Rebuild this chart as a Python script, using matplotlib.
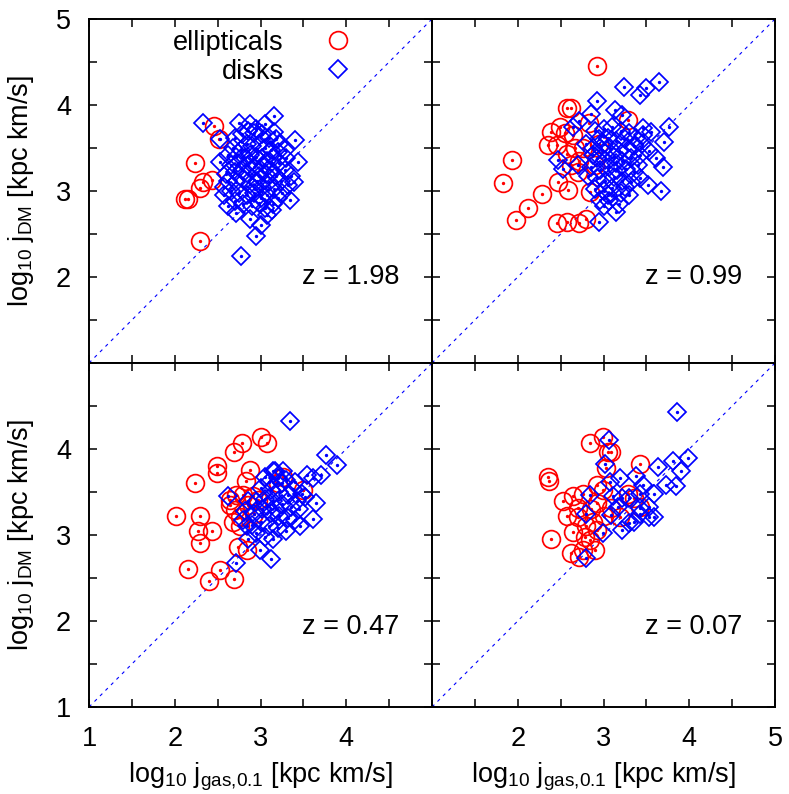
import matplotlib
matplotlib.use("Agg")
import matplotlib.pyplot as plt
from matplotlib.ticker import MultipleLocator, FixedLocator

plt.rcParams["font.family"] = ["Liberation Sans", "DejaVu Sans"]
plt.rcParams["mathtext.fontset"] = "custom"
plt.rcParams["mathtext.rm"] = "Liberation Sans"
plt.rcParams["mathtext.default"] = "regular"

# ---------------------------------------------------------------------------
# Data: (log10 j_gas,0.1 , log10 j_DM)
# ---------------------------------------------------------------------------

z_labels = ["z = 1.98", "z = 0.99", "z = 0.47", "z = 0.07"]

ell_x_198 = [2.46, 2.52, 2.24, 2.44, 2.33, 2.29, 2.16, 2.12, 2.30]
ell_y_198 = [3.76, 3.60, 3.32, 3.13, 3.11, 3.04, 2.91, 2.91, 2.42]
disk_x_198 = [2.33, 2.75, 2.88, 3.05, 3.16, 3.16, 2.93, 2.53, 3.40, 3.21, 2.84, 3.28,
              2.62, 2.72, 2.53, 3.44, 3.36, 3.39, 3.32, 3.34, 2.57, 2.62, 2.72, 2.88,
              3.01, 2.95, 2.77, 3.13, 3.07,
              2.70, 2.78, 2.85, 2.95, 3.02, 3.10, 3.18, 2.68, 2.77, 2.90, 2.98, 3.05,
              3.12, 3.20, 2.66, 2.74, 2.82, 2.88, 2.95, 3.02, 3.08, 3.15, 3.22, 3.28,
              2.70, 2.78, 2.85, 2.92, 3.00, 3.06, 3.12, 3.18, 3.24, 2.62, 2.72, 2.80,
              2.88, 2.96, 3.02, 3.10, 3.16, 2.66, 2.75, 2.84, 2.92, 3.00, 3.08, 3.20,
              2.70, 2.80, 2.90, 2.98, 3.05, 3.15, 3.25, 2.60, 2.58, 3.30, 2.98, 3.04,
              2.94, 2.86]
disk_y_198 = [3.79, 3.79, 3.78, 3.78, 3.87, 3.69, 3.67, 3.60, 3.59, 3.55, 3.55, 3.48,
              3.42, 3.40, 3.34, 3.34, 3.17, 3.11, 3.07, 2.90, 2.95, 2.82, 2.74, 2.68,
              2.60, 2.48, 2.24, 2.78, 2.72,
              3.62, 3.66, 3.70, 3.72, 3.66, 3.62, 3.60, 3.50, 3.48, 3.52, 3.55, 3.50,
              3.48, 3.45, 3.30, 3.33, 3.38, 3.42, 3.40, 3.38, 3.35, 3.38, 3.32, 3.25,
              3.22, 3.25, 3.20, 3.28, 3.25, 3.20, 3.24, 3.18, 3.12, 3.12, 3.10, 3.14,
              3.08, 3.12, 3.05, 3.10, 3.02, 3.00, 2.98, 2.95, 2.98, 2.92, 2.95, 2.92,
              2.88, 2.85, 2.82, 2.86, 2.80, 2.85, 2.98, 3.20, 3.05, 3.38, 3.18, 3.30,
              3.02, 3.30]

ell_x_099 = [2.93, 2.57, 2.62, 2.49, 2.39, 2.55, 2.83, 3.28, 2.35, 2.46, 2.64, 2.76,
             2.67, 2.57, 1.93, 1.83, 2.47, 2.59, 2.28, 2.12, 1.98, 2.46, 2.58, 2.71,
             2.80, 2.84, 2.70, 2.95, 2.90, 2.62, 2.72]
ell_y_099 = [4.45, 3.97, 3.96, 3.75, 3.69, 3.67, 3.79, 3.83, 3.53, 3.54, 3.65, 3.50,
             3.50, 3.43, 3.36, 3.09, 3.10, 3.01, 2.97, 2.80, 2.66, 2.63, 2.64, 2.63,
             2.68, 2.99, 3.22, 3.55, 3.30, 3.30, 3.35]
disk_x_099 = [3.24, 3.43, 3.49, 3.65, 2.93, 3.13, 3.22, 2.86, 2.72, 2.64, 3.76, 3.46,
              3.55, 3.71, 3.46, 3.53, 3.61, 3.69, 3.52, 3.67, 2.47, 2.53, 2.70, 2.88,
              2.95, 3.15, 3.01,
              2.90, 3.00, 3.10, 3.20, 3.30, 3.38, 2.95, 3.05, 3.15, 3.25, 3.35, 2.88,
              2.98, 3.08, 3.18, 3.28, 3.42, 2.92, 3.02, 3.12, 3.22, 3.32, 2.86, 2.96,
              3.06, 3.16, 3.26, 3.36, 2.92, 3.02, 3.12, 3.22, 3.32, 3.42, 2.90, 3.00,
              3.10, 3.20, 3.30, 2.96, 3.06, 3.18, 3.05, 3.25, 3.15, 3.00, 2.80, 2.82,
              3.40, 3.45]
disk_y_099 = [4.21, 4.12, 4.20, 4.27, 4.05, 3.94, 3.88, 3.90, 3.81, 3.75, 3.74, 3.73,
              3.69, 3.57, 3.65, 3.46, 3.38, 3.28, 3.07, 3.00, 3.36, 3.26, 3.30, 3.42,
              2.64, 2.76, 2.82,
              3.70, 3.72, 3.75, 3.70, 3.68, 3.62, 3.60, 3.62, 3.58, 3.60, 3.52, 3.50,
              3.48, 3.50, 3.46, 3.48, 3.42, 3.38, 3.36, 3.40, 3.35, 3.38, 3.28, 3.25,
              3.28, 3.24, 3.26, 3.22, 3.15, 3.12, 3.16, 3.12, 3.10, 3.15, 3.02, 3.00,
              3.04, 2.98, 2.95, 2.90, 2.88, 2.85, 2.95, 3.05, 3.32, 3.55, 3.55, 3.18,
              3.30, 3.55]

ell_x_047 = [3.01, 3.07, 2.78, 2.69, 2.49, 2.49, 2.88, 2.83, 2.24, 2.01, 2.30, 2.27,
             2.44, 2.29, 2.74, 2.84, 2.16, 2.53, 2.40, 2.69, 2.64, 2.72, 2.80, 2.91,
             2.97, 2.70, 2.76, 2.68, 2.76, 3.26, 3.50, 3.20, 2.65, 2.85, 2.92]
ell_y_047 = [4.14, 4.07, 4.07, 3.97, 3.80, 3.72, 3.76, 3.63, 3.61, 3.22, 3.22, 3.05,
             3.05, 2.91, 2.86, 2.83, 2.61, 2.59, 2.46, 2.49, 3.41, 3.47, 3.47, 3.45,
             3.41, 3.29, 3.21, 3.15, 3.10, 3.68, 3.52, 3.60, 3.35, 3.35, 3.25]
disk_x_047 = [3.34, 3.76, 3.89, 2.62, 3.15, 3.26, 3.54, 3.61, 3.71, 3.65, 3.61, 3.46,
              2.72, 3.12, 2.99, 2.80, 2.84, 3.17, 3.25, 3.38, 3.48,
              3.05, 3.10, 3.20, 3.30, 3.40, 3.00, 3.12, 3.22, 3.32, 3.42, 3.52, 2.85,
              2.95, 3.05, 3.15, 3.25, 3.35, 3.45, 2.82, 2.92, 3.02, 3.12, 3.22, 3.32,
              2.90, 3.00, 3.10, 3.20, 3.30, 2.95, 3.05, 3.15, 2.85, 3.40, 3.08, 3.18]
disk_y_047 = [4.32, 3.93, 3.81, 3.45, 3.74, 3.74, 3.70, 3.66, 3.70, 3.37, 3.19, 3.10,
              2.67, 2.72, 2.83, 3.17, 3.10, 3.75, 3.61, 3.54, 3.48,
              3.68, 3.62, 3.66, 3.64, 3.62, 3.55, 3.52, 3.50, 3.46, 3.40, 3.44, 3.40,
              3.38, 3.42, 3.40, 3.36, 3.32, 3.30, 3.28, 3.25, 3.30, 3.26, 3.22, 3.20,
              3.12, 3.15, 3.10, 3.08, 3.05, 3.02, 2.98, 2.95, 2.95, 3.18, 3.34, 3.30]

ell_x_007 = [2.84, 2.99, 3.05, 3.09, 3.42, 2.35, 2.36, 3.03, 2.39, 2.64, 2.53, 2.58,
             2.70, 2.64, 2.62, 2.76, 2.90, 2.84, 2.80, 2.88, 2.93, 2.99, 2.92, 3.09,
             3.19, 3.28, 3.36, 3.42, 2.76, 2.70, 2.78, 2.93, 2.72, 2.85, 3.00]
ell_y_007 = [4.07, 4.14, 3.97, 3.96, 3.83, 3.67, 3.63, 3.78, 2.95, 3.45, 3.39, 3.22,
             3.31, 3.04, 2.79, 2.83, 2.83, 2.94, 3.10, 3.15, 3.37, 3.52, 3.58, 3.31,
             3.21, 3.48, 3.43, 3.33, 3.48, 3.21, 2.98, 3.06, 2.75, 3.30, 3.22]
disk_x_007 = [3.86, 3.06, 3.02, 3.64, 3.81, 3.99, 3.90, 3.19, 3.38, 3.46, 3.73, 3.85,
              3.59, 3.07, 2.84, 3.11, 3.21, 3.30, 3.42, 3.17, 3.42, 3.53, 3.53, 3.59,
              2.80, 3.09, 3.21, 3.30, 3.36, 2.99, 2.80, 3.42]
disk_y_007 = [4.43, 4.10, 3.83, 3.79, 3.86, 3.89, 3.74, 3.66, 3.69, 3.58, 3.58, 3.57,
              3.48, 3.62, 3.47, 3.45, 3.43, 3.43, 3.48, 3.33, 3.31, 3.33, 3.21, 3.21,
              3.24, 3.23, 3.06, 3.14, 3.15, 3.02, 2.73, 3.25]

panels = [
    (ell_x_198, ell_y_198, disk_x_198, disk_y_198),
    (ell_x_099, ell_y_099, disk_x_099, disk_y_099),
    (ell_x_047, ell_y_047, disk_x_047, disk_y_047),
    (ell_x_007, ell_y_007, disk_x_007, disk_y_007),
]

# ---------------------------------------------------------------------------
# Figure
# ---------------------------------------------------------------------------

FS = 19.5
fig = plt.figure(figsize=(7.89, 7.94), dpi=100)
x0, xm, x1 = 89 / 789, 432 / 789, 776 / 789
y1, ym, y0 = 1 - 19 / 794, 1 - 363 / 794, 1 - 707 / 794
w, h = xm - x0, y1 - ym
rects = [(x0, ym, w, h), (xm, ym, w, h), (x0, y0, w, h), (xm, y0, w, h)]

xlabel = r"log$_{10}$ j$_{gas{,}0.1}$ [kpc km/s]"
ylabel = r"log$_{10}$ j$_{DM}$ [kpc km/s]"

for i, (rect, (ex, ey, dx, dy)) in enumerate(zip(rects, panels)):
    ax = fig.add_axes(rect)
    ax.set_xlim(1, 5)
    ax.set_ylim(1, 5)

    ax.plot([1, 5], [1, 5], color="blue", lw=0.8, ls=(0, (3, 4)), zorder=1)

    ax.plot(ex, ey, ls="none", marker="o", ms=12.8, mfc="none", mec="red",
            mew=1.25, zorder=2, label="ellipticals")
    ax.plot(ex, ey, ls="none", marker="o", ms=1.4, color="red", zorder=2)
    ax.plot(dx, dy, ls="none", marker="D", ms=8.7, mfc="none", mec="blue",
            mew=1.25, zorder=3, label="disks")
    ax.plot(dx, dy, ls="none", marker="o", ms=1.4, color="blue", zorder=3)

    top, left = i < 2, i % 2 == 0
    ax.text(4.62, 2.0 if top else 1.93, z_labels[i], ha="right", va="center",
            fontsize=FS)

    ax.xaxis.set_major_locator(MultipleLocator(1))
    ax.yaxis.set_major_locator(MultipleLocator(1))
    ax.xaxis.set_minor_locator(MultipleLocator(0.5))
    ax.yaxis.set_minor_locator(MultipleLocator(0.5))
    ax.tick_params(which="both", direction="in", top=True, right=True,
                   length=6, width=1.1, labelsize=FS)
    ax.tick_params(axis="x", pad=14)
    ax.tick_params(axis="y", pad=13)
    for s in ax.spines.values():
        s.set_linewidth(1.4)

    if left:
        ax.yaxis.set_major_locator(FixedLocator([2, 3, 4, 5] if top else [1, 2, 3, 4]))
        ax.set_ylabel(ylabel, fontsize=FS)
        ax.yaxis.set_label_coords(-0.155, 0.5)
    else:
        ax.tick_params(labelleft=False)
    if top:
        ax.tick_params(labelbottom=False)
    else:
        ax.xaxis.set_major_locator(FixedLocator([1, 2, 3, 4] if left else [2, 3, 4, 5]))
        ax.set_xlabel(xlabel, fontsize=FS)
        ax.xaxis.set_label_coords(0.5, -0.155)

    if i == 0:
        leg = ax.legend(loc="upper right", bbox_to_anchor=(0.797, 1.0), frameon=False,
                        markerfirst=False, fontsize=FS, handlelength=1.0,
                        handletextpad=1.5, labelspacing=0.1, borderaxespad=0.0)

fig.savefig("out.png", dpi=100)
